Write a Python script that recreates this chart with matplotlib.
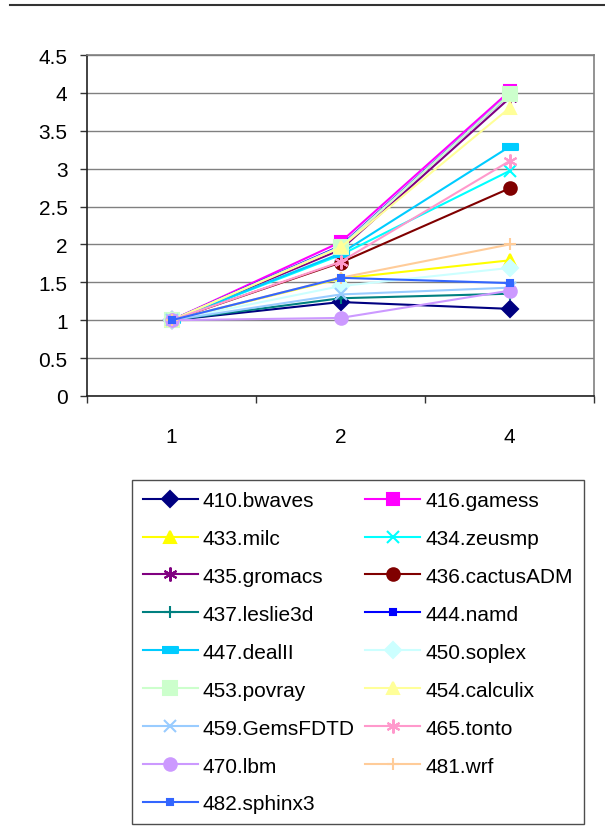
import numpy as np
import matplotlib.pyplot as plt
from matplotlib.lines import Line2D

plt.rcParams['font.family'] = ['Liberation Sans', 'DejaVu Sans']

# threads on the x axis, speedup relative to one thread on y
threads = ["1", "2", "4"]

benchmarks = [
    "410.bwaves", "416.gamess", "433.milc", "434.zeusmp", "435.gromacs",
    "436.cactusADM", "437.leslie3d", "444.namd", "447.dealII", "450.soplex",
    "453.povray", "454.calculix", "459.GemsFDTD", "465.tonto", "470.lbm",
    "481.wrf", "482.sphinx3",
]

bwaves = [1.0, 1.24, 1.15]
gamess = [1.0, 2.03, 4.02]
milc = [1.0, 1.55, 1.79]
zeusmp = [1.0, 1.86, 2.97]
gromacs = [1.0, 1.93, 3.93]
cactusADM = [1.0, 1.76, 2.74]
leslie3d = [1.0, 1.29, 1.35]
namd = [1.0, 1.98, 3.98]
dealII = [1.0, 1.88, 3.29]
soplex = [1.0, 1.45, 1.69]
povray = [1.0, 1.97, 3.98]
calculix = [1.0, 1.96, 3.80]
GemsFDTD = [1.0, 1.34, 1.43]
tonto = [1.0, 1.77, 3.10]
lbm = [1.0, 1.03, 1.39]
wrf = [1.0, 1.56, 2.00]
sphinx3 = [1.0, 1.56, 1.49]

series = [bwaves, gamess, milc, zeusmp, gromacs, cactusADM, leslie3d, namd,
          dealII, soplex, povray, calculix, GemsFDTD, tonto, lbm, wrf, sphinx3]

dash = [(-1, -0.32), (1, -0.32), (1, 0.32), (-1, 0.32)]
star = (6, 2, 0)

# colour, marker, marker size
styles = [
    ("#000080", "D", 8),
    ("#FF00FF", "s", 9),
    ("#FFFF00", "^", 9),
    ("#00FFFF", "x", 8),
    ("#800080", star, 10),
    ("#800000", "o", 9),
    ("#008080", "+", 9),
    ("#0000FF", "s", 5),
    ("#00CCFF", dash, 11.5),
    ("#CCFFFF", "D", 8),
    ("#CCFFCC", "s", 9.5),
    ("#FFFF99", "^", 9),
    ("#99CCFF", "x", 8),
    ("#FF99CC", star, 10),
    ("#CC99FF", "o", 9),
    ("#FFCC99", "+", 9),
    ("#3366FF", "s", 5),
]

fig = plt.figure(figsize=(6.05, 8.29), dpi=100)
ax = fig.add_axes([87 / 605, 1 - 397 / 829, (594 - 87) / 605, (397 - 56) / 829])

x = np.arange(len(threads))
handles = []
for name, vals, (col, mk, ms) in zip(benchmarks, series, styles):
    (h,) = ax.plot(x, vals, color=col, lw=1.5, marker=mk, markersize=ms,
                   markerfacecolor=col, markeredgecolor=col, mew=1.5,
                   label=name, clip_on=False)
    handles.append(h)

ax.set_xlim(-0.5, len(threads) - 0.5)
ax.set_ylim(0, 4.5)
ax.set_yticks(np.arange(0, 4.51, 0.5))
ax.set_yticklabels(["0", "0.5", "1", "1.5", "2", "2.5", "3", "3.5", "4", "4.5"])
ax.set_xticks(x)
ax.set_xticklabels(threads)
ax.set_xticks(np.arange(-0.5, len(threads), 1), minor=True)
ax.tick_params(axis="x", which="major", length=0, pad=22, labelsize=15)
ax.tick_params(axis="x", which="minor", length=5, width=1, color="#333333")
ax.tick_params(axis="y", length=5, width=1, color="#333333", pad=9, labelsize=15)

ax.yaxis.grid(True, color="#808080", lw=1)
ax.set_axisbelow(True)
for side in ["top", "right"]:
    ax.spines[side].set_color("#808080")
    ax.spines[side].set_linewidth(1.2)
for side in ["left", "bottom"]:
    ax.spines[side].set_color("#222222")
    ax.spines[side].set_linewidth(1.2)

# legend is filled row by row, so reorder for matplotlib's column-major fill
order = list(range(0, len(handles), 2)) + list(range(1, len(handles), 2))
leg = fig.legend([handles[i] for i in order], [benchmarks[i] for i in order],
                 ncol=2, loc="upper left",
                 bbox_to_anchor=(132 / 605, 1 - 481 / 829),
                 bbox_transform=fig.transFigure,
                 fontsize=15, frameon=True, fancybox=False,
                 handlelength=2.64, handletextpad=0.24, columnspacing=0.5,
                 labelspacing=0.91, borderpad=0.52, borderaxespad=0)
leg.get_frame().set_edgecolor("#222222")
leg.get_frame().set_linewidth(1.0)

# rule at the top of the page
fig.add_artist(Line2D([10 / 605, 1], [1 - 6 / 829, 1 - 6 / 829],
                      transform=fig.transFigure, color="#333333", lw=1.5))

fig.savefig("out.png", dpi=100)
